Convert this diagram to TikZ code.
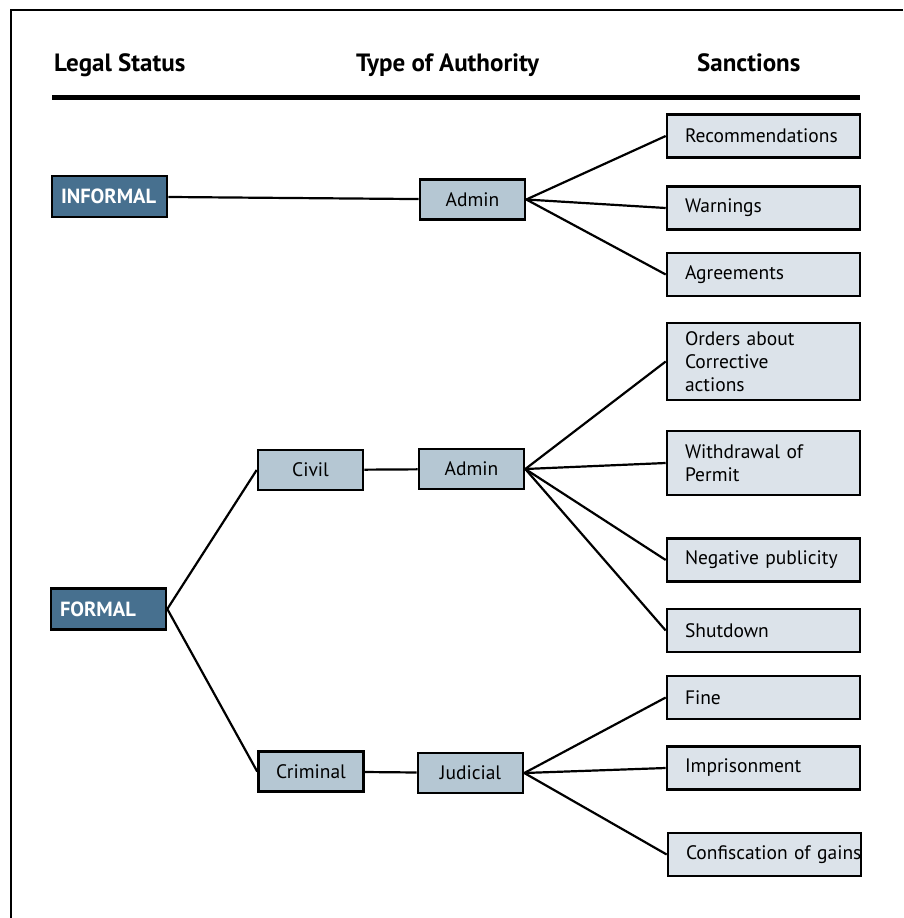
\documentclass[tikz,border=0pt]{standalone}
\usepackage{fontspec}
\setmainfont{PT Sans}
\usepackage{tikz}
\usetikzlibrary{positioning}

\definecolor{statusblue}{HTML}{47708F}
\definecolor{midblue}{HTML}{B5C7D3}
\definecolor{paleblue}{HTML}{DCE3EA}

\begin{document}
\begin{tikzpicture}[x=1pt, y=-1pt,
    status/.style={draw, line width=2.6pt, fill=statusblue, text=white,
        font=\fontsize{20.5}{24}\selectfont\bfseries, minimum width=115pt,
        minimum height=41pt, inner xsep=9pt, inner ysep=0pt, text width=97pt, align=left},
    authority/.style={draw, line width=2.6pt, fill=midblue,
        font=\fontsize{19.5}{23}\selectfont, minimum width=105pt,
        minimum height=40pt, inner sep=0pt},
    sanction/.style={draw, line width=2.6pt, fill=paleblue,
        font=\fontsize{19.5}{23}\selectfont, minimum width=193pt,
        minimum height=43pt, inner xsep=18pt, inner ysep=0pt, text width=157pt, align=left},
    heading/.style={font=\fontsize{25}{28}\selectfont\bfseries, anchor=base west, inner sep=0pt},
    link/.style={line width=2.2pt}]
    \useasboundingbox (0,0) rectangle (903,918);
    % frame
    \draw[line width=1.6pt] (11,918) -- (11,10) -- (903,10);

    % headings and rule
    \node [heading] (hstatus) at (54,71) {Legal Status};
    \node [heading] (hauth) at (356,71) {Type of Authority};
    \node [heading] (hsanct) at (697,71) {Sanctions};
    \draw[line width=5pt] (52,97) -- (860,97);

    % left column
    \node [status] (informal) at (109.5,196.5) {INFORMAL};
    \node [status] (formal) at (108.5,609) {FORMAL};

    % middle columns
    \node [authority] (admin1) at (472.5,199.5) {Admin};
    \node [authority] (civil) at (310.5,470) {Civil};
    \node [authority] (admin2) at (471.5,469) {Admin};
    \node [authority] (criminal) at (311,771.5) {Criminal};
    \node [authority] (judicial) at (470.5,773) {Judicial};

    % sanctions
    \node [sanction] (recom) at (763.5,136) {Recommendations};
    \node [sanction] (warn) at (763.5,208) {Warnings};
    \node [sanction] (agree) at (763.5,274.5) {Agreements};
    \node [sanction, minimum height=77pt] (orders) at (763.5,361.5) {Orders about\\Corrective\\actions};
    \node [sanction, minimum height=64pt] (withdraw) at (763.5,463) {Withdrawal of\\Permit};
    \node [sanction] (negpub) at (763.5,560) {Negative publicity};
    \node [sanction] (shut) at (763.5,630.5) {Shutdown};
    \node [sanction] (fine) at (763.5,697.5) {Fine};
    \node [sanction] (prison) at (763.5,768) {Imprisonment};
    \node [sanction] (confisc) at (764.5,854.5) {\mbox{Confiscation of gains}};

    \draw[link] (informal) -- (admin1);
    \draw[link] (admin1.east) -- (recom.west);
    \draw[link] (admin1.east) -- (warn.west);
    \draw[link] (admin1.east) -- (agree.west);

    \draw[link] (formal.east) -- (civil.west);
    \draw[link] (formal.east) -- (criminal.west);
    \draw[link] (civil) -- (admin2);
    \draw[link] (criminal) -- (judicial);

    \draw[link] (admin2.east) -- (orders.west);
    \draw[link] (admin2.east) -- (withdraw.west);
    \draw[link] (admin2.east) -- (negpub.west);
    \draw[link] (admin2.east) -- (shut.west);

    \draw[link] (judicial.east) -- (fine.west);
    \draw[link] (judicial.east) -- (prison.west);
    \draw[link] (judicial.east) -- (confisc.west);
\end{tikzpicture}
\end{document}
